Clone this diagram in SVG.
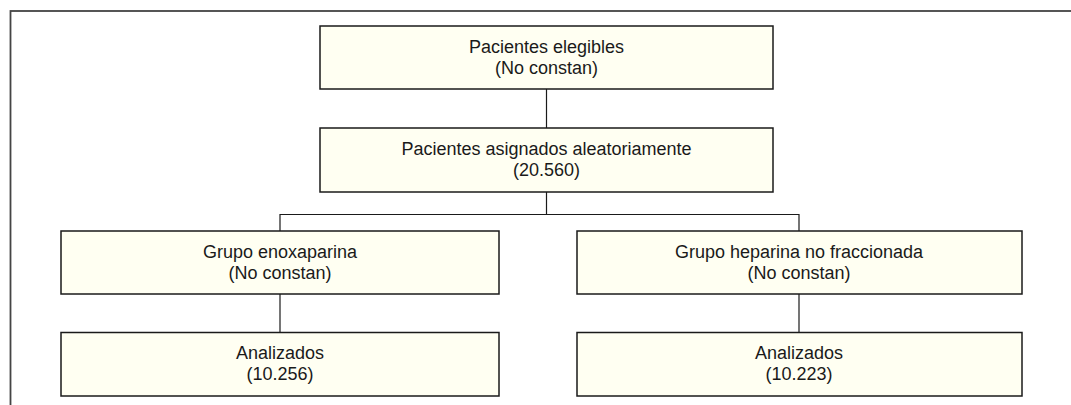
<svg xmlns="http://www.w3.org/2000/svg" width="1071" height="405" viewBox="0 0 1071 405">
<style>
.box{fill:#fffff2;stroke:#1a1a1a;stroke-width:1.5}
.t{font-family:"Liberation Sans",Arial,sans-serif;font-size:18px;fill:#1a1a1a;text-anchor:middle}
.c{fill:none;stroke:#1a1a1a;stroke-width:1.2}
</style>
<rect x="0" y="0" width="1071" height="405" fill="#ffffff"/>
<rect x="10.5" y="11" width="1080" height="420" fill="none" stroke="#444" stroke-width="1.8"/>
<g id="connectors">
<line class="c" x1="546.5" y1="89" x2="546.5" y2="128"/>
<polyline class="c" points="546.5,192 546.5,214.5"/>
<polyline class="c" points="280,231 280,214.5 799,214.5 799,231"/>
<line class="c" x1="280" y1="294" x2="280" y2="332"/>
<line class="c" x1="799" y1="294" x2="799" y2="332"/>
</g>
<g id="n1"><rect class="box" x="320" y="26" width="453" height="63"/><text class="t" x="546.5" y="52.7">Pacientes elegibles</text><text class="t" x="546.5" y="73.8">(No constan)</text></g>
<g id="n2"><rect class="box" x="320" y="128" width="453" height="64"/><text class="t" x="546.5" y="154.7">Pacientes asignados aleatoriamente</text><text class="t" x="546.5" y="175.8">(20.560)</text></g>
<g id="n3"><rect class="box" x="61" y="231" width="438" height="63"/><text class="t" x="280" y="257.7">Grupo enoxaparina</text><text class="t" x="280" y="278.8">(No constan)</text></g>
<g id="n4"><rect class="box" x="577" y="231" width="445" height="63"/><text class="t" x="799" y="257.7">Grupo heparina no fraccionada</text><text class="t" x="799" y="278.8">(No constan)</text></g>
<g id="n5"><rect class="box" x="61" y="332.5" width="438" height="63.5"/><text class="t" x="280" y="359.2">Analizados</text><text class="t" x="280" y="380.3">(10.256)</text></g>
<g id="n6"><rect class="box" x="577" y="332.5" width="445" height="63.5"/><text class="t" x="799" y="359.2">Analizados</text><text class="t" x="799" y="380.3">(10.223)</text></g>
</svg>
